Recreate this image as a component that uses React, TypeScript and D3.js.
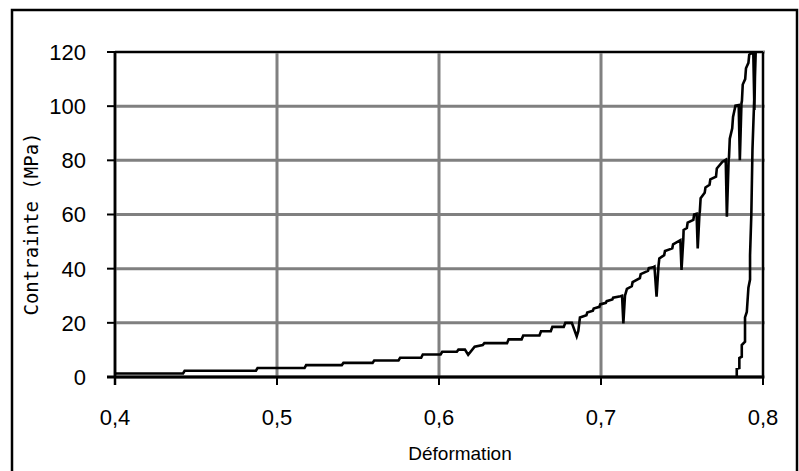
import React from 'react';
import * as d3 from 'd3';

const xTicks = [0.4, 0.5, 0.6, 0.7, 0.8];
const yTicks = [0, 20, 40, 60, 80, 100, 120];
const xTitle = 'Déformation';
const yTitle = 'Contrainte (MPa)';

const loadStrain = [
  0.400, 0.442, 0.443, 0.487, 0.488, 0.517, 0.518, 0.540, 0.541, 0.559, 0.560, 0.575, 0.576, 0.589, 0.590,
  0.601, 0.602, 0.611, 0.612, 0.616, 0.618, 0.622, 0.627, 0.628, 0.642, 0.643, 0.651, 0.652, 0.662, 0.663,
  0.669, 0.670, 0.677, 0.678, 0.682, 0.685, 0.686, 0.687,
  0.691, 0.6915, 0.695, 0.6955, 0.699, 0.6995, 0.703, 0.7035, 0.707, 0.7075, 0.712,
  0.713, 0.7138, 0.7148,
  0.716, 0.719, 0.7195, 0.724, 0.7245, 0.729, 0.7295, 0.732, 0.733,
  0.7343, 0.7355,
  0.736, 0.739, 0.7395, 0.744, 0.7445, 0.749,
  0.7497, 0.7508,
  0.751, 0.753, 0.7535, 0.757, 0.7575, 0.759,
  0.7597, 0.7608,
  0.761, 0.7615, 0.764, 0.7645, 0.767, 0.7675, 0.771, 0.7715, 0.775, 0.777,
  0.7777, 0.7788,
  0.779, 0.7795, 0.781, 0.7815, 0.783, 0.785,
  0.7857, 0.7867,
  0.787, 0.7875, 0.789, 0.7895, 0.791, 0.7915, 0.794,
  0.7947, 0.7953,
];
const loadStress = [
  1.3, 1.3, 2.3, 2.3, 3.3, 3.3, 4.4, 4.4, 5.2, 5.2, 6.1, 6.1, 7.1, 7.1, 8.3,
  8.3, 9.3, 9.3, 10.1, 10.1, 8.2, 11.2, 11.8, 12.5, 12.5, 13.9, 13.9, 15.3, 15.3, 16.9,
  16.9, 18.5, 18.5, 20.0, 20.0, 15.0, 17.0, 22.0,
  22.8, 23.8, 24.5, 25.3, 25.9, 26.8, 27.4, 28.0, 28.6, 29.3, 29.8,
  30.0, 19.8, 30.0,
  32.5, 33.5, 35.0, 36.5, 38.0, 39.2, 40.2, 40.5, 40.8,
  29.7, 41.0,
  43.8, 45.0, 46.5, 47.5, 49.0, 50.5,
  39.5, 50.8,
  54.3, 55.0, 57.0, 58.0, 60.0, 60.3,
  47.5, 60.5,
  61.0, 66.0, 68.0, 70.0, 71.0, 73.0, 74.0, 77.0, 79.5, 80.2,
  59.2, 80.5,
  81.0, 88.0, 91.8, 96.0, 100.2, 100.4,
  80.0, 101.0,
  102.0, 108.0, 110.0, 114.0, 116.0, 119.0, 120.0,
  98.6, 120.0,
];
const unloadStrain = [
  0.7955, 0.7950, 0.7935, 0.7928, 0.7920, 0.7920, 0.7910, 0.7900, 0.7889, 0.7889, 0.7869, 0.7869, 0.7854,
  0.7854, 0.7838, 0.7838,
];
const unloadStress = [
  120.0, 110.0, 84.0, 60.0, 45.0, 36.0, 33.0, 24.0, 22.0, 13.0, 11.8, 7.5, 7.0, 3.3, 3.0, 0.0,
];

const W = 799;
const H = 471;
const left = 115;
const right = 763;
const top = 52;
const bottom = 377;

export default function App() {
  const x = d3.scaleLinear().domain([0.4, 0.8]).range([left, right]);
  const y = d3.scaleLinear().domain([0, 120]).range([bottom, top]);
  const pts: [number, number][] = [];
  loadStrain.forEach((s, i) => pts.push([s, loadStress[i]]));
  unloadStrain.forEach((s, i) => pts.push([s, unloadStress[i]]));
  const line = d3
    .line<[number, number]>()
    .x((d) => x(d[0]))
    .y((d) => y(d[1]));
  const font = '"Liberation Sans", Arial, sans-serif';
  return (
    <svg
      width={W}
      height={H}
      style={{ position: 'absolute', left: 0, top: 0, background: '#fff' }}
    >
      <rect x={0} y={0} width={W} height={H} fill="#fff" />
      <rect x={12} y={10} width={785} height={480} fill="none" stroke="#000" strokeWidth={2.5} />
      <defs>
        <clipPath id="plot">
          <rect x={left} y={top - 1} width={right - left + 1} height={bottom - top + 2} />
        </clipPath>
      </defs>
      {xTicks.map((t) => (
        <line key={'gx' + t} x1={x(t)} x2={x(t)} y1={top} y2={bottom} stroke="#808080" strokeWidth={3} />
      ))}
      {yTicks.map((t) => (
        <line key={'gy' + t} x1={left} x2={right + 2} y1={y(t)} y2={y(t)} stroke="#808080" strokeWidth={3} />
      ))}
      <line x1={left} x2={right} y1={top} y2={top} stroke="#000" strokeWidth={2} />
      <line x1={right} x2={right} y1={top} y2={bottom} stroke="#000" strokeWidth={2} />
      <path d={line(pts) || ''} fill="none" stroke="#000" strokeWidth={2.6} strokeLinejoin="miter" clipPath="url(#plot)" />
      <line x1={left} x2={left} y1={top} y2={bottom + 8} stroke="#000" strokeWidth={2.5} />
      <line x1={left - 8} x2={right} y1={bottom} y2={bottom} stroke="#000" strokeWidth={3} />
      {yTicks.map((t) => (
        <g key={'ty' + t}>
          <line x1={left - 8} x2={left} y1={y(t)} y2={y(t)} stroke="#000" strokeWidth={2} />
          <text x={86} y={y(t)} dy="0.36em" textAnchor="end" fontFamily={font} fontSize={22} fill="#000">
            {t}
          </text>
        </g>
      ))}
      {xTicks.map((t) => (
        <g key={'tx' + t}>
          <line x1={x(t)} x2={x(t)} y1={bottom} y2={bottom + 8} stroke="#000" strokeWidth={2} />
          <text x={x(t)} y={425} textAnchor="middle" fontFamily={font} fontSize={22} fill="#000">
            {String(t).replace('.', ',')}
          </text>
        </g>
      ))}
      <text x={460} y={460} textAnchor="middle" fontFamily={font} fontSize={19} fill="#000">
        {xTitle}
      </text>
      <text
        transform={`translate(38,${224}) rotate(-90)`}
        textAnchor="middle"
        fontFamily='"DejaVu Sans Mono", monospace'
        fontSize={19}
        fill="#000"
      >
        {yTitle}
      </text>
    </svg>
  );
}
